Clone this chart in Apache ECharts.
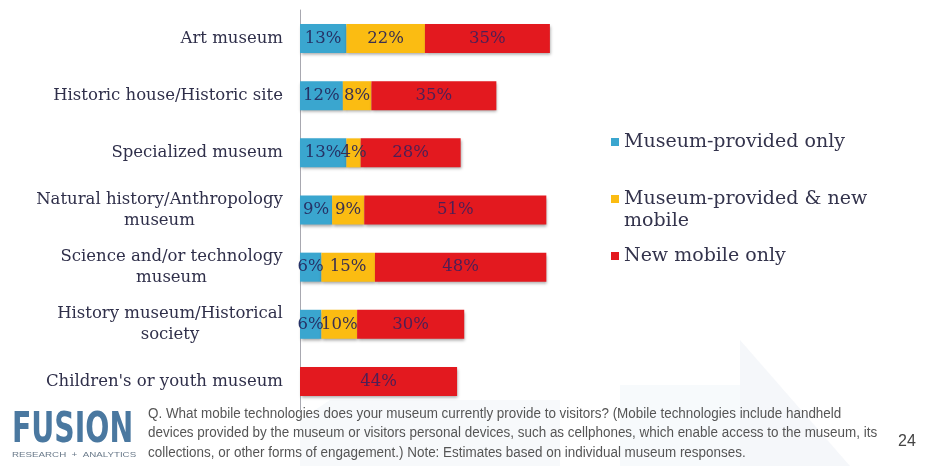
<!DOCTYPE html>
<html>
<head>
<meta charset="utf-8">
<script src="https://cdn.jsdelivr.net/npm/echarts@6/dist/echarts.min.js"></script>
<style>
html,body{margin:0;padding:0;background:#fff;}
#chart{width:932px;height:466px;}
</style>
</head>
<body>
<div id="chart"></div>
<script>
// ---- data ----
const categories = [
  "Art museum",
  "Historic house/Historic site",
  "Specialized museum",
  "Natural history/Anthropology\nmuseum",
  "Science and/or technology\nmuseum",
  "History museum/Historical\nsociety",
  "Children's or youth museum"
];
const seriesNames = ["Museum-provided only", "Museum-provided & new mobile", "New mobile only"];
const museumProvidedOnly = [13, 12, 13, 9, 6, 6, 0];
const museumProvidedAndNew = [22, 8, 4, 9, 15, 10, 0];
const newMobileOnly = [35, 35, 28, 51, 48, 30, 44];
const footnoteLines = [
  "Q. What mobile technologies does your museum currently provide to visitors? (Mobile technologies include handheld",
  "devices provided by the museum or visitors personal devices, such as cellphones, which enable access to the museum, its",
  "collections, or other forms of engagement.) Note: Estimates based on individual museum responses."
];
const pageNumber = "24";

// ---- styling ----
const colors = ["#3aa6cf", "#fbbc12", "#e3191f"];
const labelFont = '"DejaVu Serif", "Liberation Serif", serif';
const catFontSize = 16.5;
const catColor = '#2f2f4a';

// measure multi-line labels so later lines are centred under the first
const cv = document.createElement('canvas').getContext('2d');
cv.font = catFontSize + 'px ' + labelFont;
const rich = {};
const catFormatted = categories.map((c, i) => {
  const lines = c.split('\n');
  if (lines.length === 1) return c;
  const w = Math.ceil(Math.max(...lines.map(l => cv.measureText(l).width)));
  rich['c' + i] = { width: w, align: 'center', fontSize: catFontSize, fontFamily: labelFont, color: catColor, lineHeight: 21 };
  return lines.map(l => '{c' + i + '|' + l + '}').join('\n');
});

const chart = echarts.init(document.getElementById('chart'));
const valueData = [museumProvidedOnly, museumProvidedAndNew, newMobileOnly];
const labelColors = ['#263266', '#3a3050', '#4e1f55'];

const series = seriesNames.map((name, k) => ({
  name: name,
  type: 'bar',
  stack: 'total',
  barWidth: 29,
  data: valueData[k],
  itemStyle: {
    color: colors[k],
    shadowColor: 'rgba(0,0,0,0.35)',
    shadowBlur: 3,
    shadowOffsetX: 1,
    shadowOffsetY: 2
  },
  label: {
    show: true,
    position: 'inside',
    formatter: p => p.value > 0 ? p.value + '%' : '',
    fontFamily: labelFont,
    fontSize: 16.5,
    color: labelColors[k],
    overflow: 'none'
  }
}));

chart.setOption({
  animation: false,
  backgroundColor: '#ffffff',
  grid: { left: 300, top: 10, width: 357, height: 400, containLabel: false },
  xAxis: { type: 'value', min: 0, max: 100, show: false },
  yAxis: {
    type: 'category',
    data: categories,
    inverse: true,
    axisLine: { show: true, lineStyle: { color: '#a8a8b0', width: 1 } },
    axisTick: { show: false },
    axisLabel: {
      margin: 17,
      fontFamily: labelFont,
      fontSize: catFontSize,
      color: catColor,
      lineHeight: 21,
      formatter: (v, i) => catFormatted[i],
      rich: rich
    }
  },
  legend: {
    orient: 'vertical',
    left: 611,
    top: 131,
    padding: 0,
    itemGap: 13,
    icon: 'rect',
    itemWidth: 8,
    itemHeight: 8,
    selectedMode: false,
    textStyle: { fontFamily: labelFont, fontSize: 19, color: '#33334c', lineHeight: 22 },
    data: seriesNames,
    // second entry wraps: a leading blank line keeps its first line level with the marker
    formatter: n => n === seriesNames[1] ? '\u00a0\nMuseum-provided & new\nmobile' : n
  },
  graphic: [
    // faint watermark shapes
    { type: 'polygon', z: -10, shape: { points: [[300,466],[300,420],[330,400],[560,400],[560,466]] }, style: { fill: 'rgba(225,232,240,0.25)' } },
    { type: 'polygon', z: -10, shape: { points: [[740,466],[740,340],[850,466]] }, style: { fill: 'rgba(225,232,240,0.35)' } },
    { type: 'polygon', z: -10, shape: { points: [[620,466],[620,385],[740,385],[740,466]] }, style: { fill: 'rgba(225,235,242,0.25)' } },
    // logo
    { type: 'text', x: 12, y: 410, scaleX: 0.75, style: { text: 'FUSION', font: 'bold 42px "DejaVu Sans Condensed", "DejaVu Sans", sans-serif', fill: '#4a78a0' } },
    { type: 'text', x: 12, y: 451, scaleX: 1.3, style: { text: 'RESEARCH  +  ANALYTICS', font: '7.5px "Liberation Sans", sans-serif', fill: '#6a7a8a' } },
    // footnote
    { type: 'text', x: 148, y: 404, scaleX: 0.96, style: { text: footnoteLines.join('\n'), font: '14px "Liberation Sans", sans-serif', lineHeight: 19.5, fill: '#555555' } },
    { type: 'text', x: 898, y: 434, style: { text: pageNumber, font: '16px "Liberation Sans", sans-serif', fill: '#444444' } }
  ],
  series: series
});
</script>
</body>
</html>
